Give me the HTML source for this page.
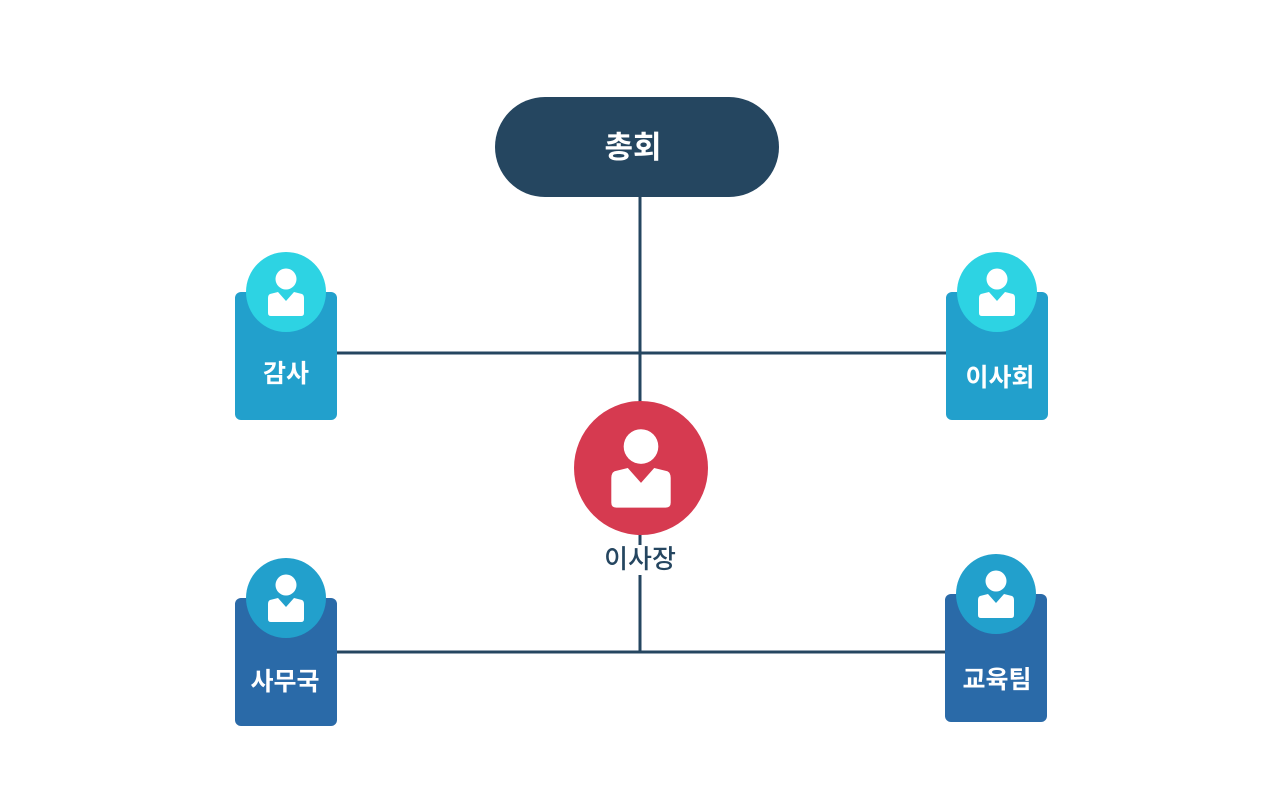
<!DOCTYPE html>
<html><head><meta charset="utf-8"><style>
html,body{margin:0;padding:0;background:#fff;}
svg{display:block}
text{font-family:"Liberation Sans","Noto Sans CJK KR",sans-serif;font-weight:bold;text-anchor:middle}
</style></head><body>
<svg width="1280" height="800" viewBox="0 0 1280 800" xmlns="http://www.w3.org/2000/svg">
<defs>
<g id="ic" fill="#fff">
<circle cx="0" cy="-13" r="10.5"/>
<path d="M-16,2 L-8,0 L0,9 L8,0 L16,2 Q18,3 18,6 L18,21 Q18,24 15,24 L-15,24 Q-18,24 -18,21 L-18,6 Q-18,3 -16,2 Z"/>
</g>
</defs>
<g stroke="#254660" stroke-width="3" fill="none">
<line x1="640" y1="197" x2="640" y2="402"/>
<line x1="640" y1="530" x2="640" y2="545"/>
<line x1="640" y1="575" x2="640" y2="653"/>
<line x1="337" y1="353" x2="946" y2="353"/>
<line x1="337" y1="652" x2="945" y2="652"/>
</g>
<rect x="495" y="97" width="284" height="100" rx="50" fill="#254660"/>
<text x="633" y="158" font-size="31" fill="#fff">총회</text>

<rect x="235" y="292" width="102" height="128" rx="6" fill="#22a0cc"/>
<circle cx="286" cy="292" r="40" fill="#2dd3e3"/>
<use href="#ic" transform="translate(286,292)"/>
<text x="286" y="382" font-size="25" fill="#fff">감사</text>

<rect x="946" y="292" width="102" height="128" rx="6" fill="#22a0cc"/>
<circle cx="997" cy="292" r="40" fill="#2dd3e3"/>
<use href="#ic" transform="translate(997,292)"/>
<text x="1000" y="386" font-size="25" fill="#fff">이사회</text>

<rect x="235" y="598" width="102" height="128" rx="6" fill="#2a6aa8"/>
<circle cx="286" cy="598" r="40" fill="#22a0cc"/>
<use href="#ic" transform="translate(286,598)"/>
<text x="285" y="690" font-size="25" fill="#fff">사무국</text>

<rect x="945" y="594" width="102" height="128" rx="6" fill="#2a6aa8"/>
<circle cx="996" cy="594" r="40" fill="#22a0cc"/>
<use href="#ic" transform="translate(996,594)"/>
<text x="997" y="688" font-size="25" fill="#fff">교육팀</text>

<circle cx="641" cy="468" r="67" fill="#d63a50"/>
<use href="#ic" transform="translate(641,468) scale(1.65)"/>
<text x="640" y="568" font-size="26" fill="#254660" style="font-weight:500">이사장</text>
</svg>
</body></html>
